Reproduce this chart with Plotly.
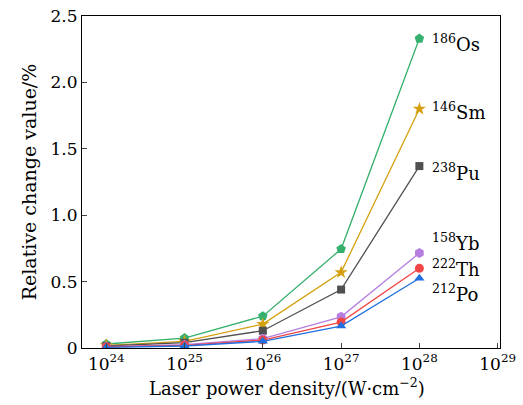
import plotly.graph_objects as go

x_vals = [1e24, 1e25, 1e26, 1e27, 1e28]
names = ["Os", "Sm", "Pu", "Yb", "Th", "Po"]
mass = ["186", "146", "238", "158", "222", "212"]
os_v = [0.03, 0.075, 0.24, 0.745, 2.33]
sm_v = [0.02, 0.05, 0.18, 0.57, 1.80]
pu_v = [0.015, 0.04, 0.13, 0.44, 1.37]
yb_v = [0.01, 0.025, 0.07, 0.235, 0.715]
th_v = [0.008, 0.02, 0.06, 0.195, 0.60]
po_v = [0.005, 0.015, 0.05, 0.165, 0.525]
label_y = [2.32, 1.81, 1.35, 0.82, 0.625, 0.44]
tick_vals = [1e24, 1e25, 1e26, 1e27, 1e28, 1e29]
tick_text = ["10<sup>24</sup>", "10<sup>25</sup>", "10<sup>26</sup>", "10<sup>27</sup>", "10<sup>28</sup>", "10<sup>29</sup>"]
y_ticks = [0, 0.5, 1.0, 1.5, 2.0, 2.5]
y_text = ["0", "0.5", "1.0", "1.5", "2.0", "2.5"]
x_title = "Laser power density/(W·cm<sup>−2</sup>)"
y_title = "Relative change value/%"

series = [os_v, sm_v, pu_v, yb_v, th_v, po_v]
colors = ["#35b06e", "#d4a00f", "#505050", "#b57ee0", "#f04646", "#2070e0"]
symbols = ["pentagon", "star", "square", "hexagon", "circle", "triangle-up"]
sizes = [10, 10, 8, 10, 9, 9]

FONT = "DejaVu Serif"
fig = go.Figure()
for n, v, c, s, sz in zip(names, series, colors, symbols, sizes):
    fig.add_trace(go.Scatter(x=x_vals, y=v, mode="lines+markers", name=n,
                             line=dict(color=c, width=1.3),
                             marker=dict(symbol=s, size=sz, color=c)))
for n, m, ly in zip(names, mass, label_y):
    fig.add_annotation(x=28, y=ly, xref="x", yref="y", text=f"<sup>{m}</sup>{n}",
                       showarrow=False, xanchor="left", xshift=11, yshift=-3,
                       font=dict(family=FONT, size=18, color="black"))
fig.add_annotation(x=0.155, y=-0.117, xref="paper", yref="paper", text=x_title,
                   showarrow=False, xanchor="left", yanchor="middle",
                   font=dict(family=FONT, size=18, color="black"))

fig.update_layout(
    width=523, height=405, showlegend=False,
    margin=dict(l=82, r=23, t=16, b=57),
    plot_bgcolor="white", paper_bgcolor="white",
    font=dict(family=FONT, size=16, color="black"),
)
fig.update_xaxes(type="log", range=[23.69, 29.03], tickvals=tick_vals, ticktext=tick_text,
                 ticks="inside", ticklen=5, showgrid=False, zeroline=False, automargin=False,
                 showline=True, linecolor="black", linewidth=1.2, mirror=True,
                 tickfont=dict(size=17))
fig.update_yaxes(range=[0, 2.5], tickvals=y_ticks, ticktext=y_text,
                 ticks="inside", ticklen=5, showgrid=False, zeroline=False, automargin=False,
                 showline=True, linecolor="black", linewidth=1.2, mirror=True,
                 title=dict(text=y_title, font=dict(size=19), standoff=8),
                 tickfont=dict(size=17))
fig.write_html("out.html", post_script="document.body.style.margin='0';",
               config={"displayModeBar": False})
